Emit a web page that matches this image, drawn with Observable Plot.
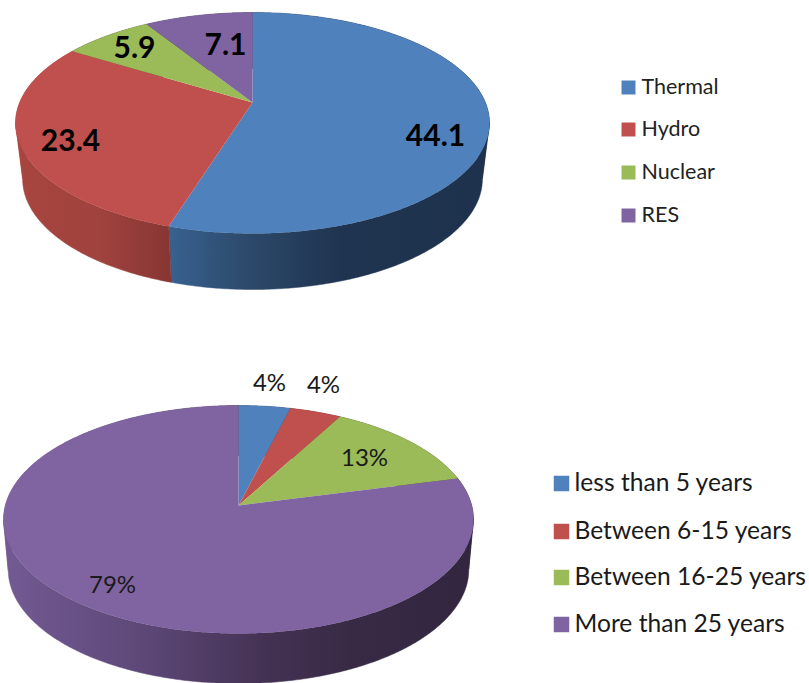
<!DOCTYPE html>
<html>
<head>
<meta charset="utf-8">
<script src="https://cdn.jsdelivr.net/npm/d3@7"></script>
<script src="https://cdn.jsdelivr.net/npm/@observablehq/plot@0.6"></script>
<style>html,body{margin:0;padding:0;background:#fff}svg{display:block}</style>
</head>
<body>
<div id="chart"></div>
<script>
// ---- data ----
const sourceLabels = ["Thermal", "Hydro", "Nuclear", "RES"];
const sourceValues = [44.1, 23.4, 5.9, 7.1];
const sourceText = ["44.1", "23.4", "5.9", "7.1"];
const ageLabels = ["less than 5 years", "Between 6-15 years", "Between 16-25 years", "More than 25 years"];
const ageValues = [4, 4, 13, 79];
const ageText = ["4%", "4%", "13%", "79%"];

// ---- styling and layout ----
const W = 809, H = 683;
const colors = ["#4f81bd", "#c0504d", "#9bbb59", "#8064a2"];
const sidesTop = [
  [[170, "#38618f"], [250, "#2c4869"], [340, "#1f3450"], [489, "#1e324d"]],
  [[15, "#a8453f"], [100, "#a0423e"], [170, "#873633"]],
  [[0, "#5f7038"], [809, "#5f7038"]],
  [[0, "#4a3a60"], [809, "#4a3a60"]]
];
const sidesBottom = [
  [[0, "#2f4d71"], [809, "#2f4d71"]],
  [[0, "#73302e"], [809, "#73302e"]],
  [[0, "#5d7035"], [809, "#5d7035"]],
  [[3, "#735a93"], [130, "#5f4a7b"], [270, "#433152"], [350, "#382a45"], [473, "#32263f"]]
];
const pieTop = {id: "a", cx: 252, apex: 102, top: 12, bottom: 233, rx: 237, depth: 56, taper: 0.97,
  labels: [[435, 136], [70, 141], [134, 48], [225, 45]], font: 30, weight: 700, textFill: "#000",
  legendX: 628, legendY: [87, 129, 172, 215], legendSide: 14, legendTextX: 641, legendFont: 21.5, legendFill: "#222"};
const pieBottom = {id: "b", cx: 238, apex: 505, top: 405, bottom: 633, rx: 235, depth: 50, taper: 0.98,
  labels: [[269, 383], [323, 385], [364, 458], [112, 585]], font: 24, weight: 400, textFill: "#1a1a1a",
  legendX: 561, legendY: [483, 531, 577, 624], legendSide: 15.5, legendTextX: 574, legendFont: 24.6, legendFill: "#1a1a1a"};

// Perspective projection of a circle: slice boundaries converge on the off-centre apex.
function projector(p) {
  const up = p.apex - p.top, down = p.bottom - p.apex;
  const k = (up - down) / (up + down);
  const A = up * (1 - k);
  const yMid = (down - up) / 2;
  const B = p.rx * A / Math.sqrt((A - k * yMid) ** 2 - yMid ** 2);
  return t => {
    const u = Math.sin(t), v = -Math.cos(t), w = 1 + k * v;
    return [p.cx + B * u / w, p.apex + A * v / w];
  };
}

// Split an arc wherever its x direction turns, so each wall polygon is a simple band.
function monotoneRuns(edge) {
  const runs = [];
  let run = [edge[0]], dir = 0;
  for (let i = 1; i < edge.length; i++) {
    const d = Math.sign(edge[i][0] - edge[i - 1][0]);
    if (dir && d && d !== dir) { runs.push(run); run = [edge[i - 1]]; }
    if (d) dir = d;
    run.push(edge[i]);
  }
  runs.push(run);
  return runs;
}

function pieMarks(p, values, labels, text) {
  const project = projector(p);
  const total = d3.sum(values);
  const ends = Array.from(d3.cumsum(values), d => d / total * 2 * Math.PI);
  const starts = [0, ...ends.slice(0, -1)];
  const arc = (a, b) => {
    const n = Math.max(2, Math.ceil((b - a) / 0.01));
    return d3.range(n + 1).map(i => project(a + (b - a) * i / n));
  };
  const marks = [];
  values.forEach((_, i) => {
    monotoneRuns(arc(starts[i], ends[i])).forEach(run => {
      const lower = run.slice().reverse().map(([x, y]) => [p.cx + (x - p.cx) * p.taper, y + p.depth]);
      const wall = [...run, ...lower];
      marks.push(Plot.line(wall, {x: d => d[0], y: d => d[1], curve: "linear-closed",
        fill: `url(#${p.id}${i})`, stroke: `url(#${p.id}${i})`, strokeWidth: 0.5}));
    });
  });
  values.forEach((_, i) => {
    const wedge = [[p.cx, p.apex], ...arc(starts[i], ends[i])];
    marks.push(Plot.line(wedge, {x: d => d[0], y: d => d[1], curve: "linear-closed",
      fill: colors[i], stroke: "none"}));
  });
  marks.push(Plot.text(text, {
    x: (d, i) => p.labels[i][0], y: (d, i) => p.labels[i][1], text: d => d,
    fontSize: p.font, fontWeight: p.weight, fill: p.textFill, textAnchor: "middle", lineAnchor: "middle"
  }));
  marks.push(Plot.dot(labels, {
    x: () => p.legendX, y: (d, i) => p.legendY[i], symbol: "square",
    r: p.legendSide / Math.sqrt(Math.PI), fill: (d, i) => colors[i], stroke: "none"
  }));
  marks.push(Plot.text(labels, {
    x: () => p.legendTextX, y: (d, i) => p.legendY[i], text: d => d,
    fontSize: p.legendFont, fill: p.legendFill, textAnchor: "start", lineAnchor: "middle"
  }));
  return marks;
}

function gradientDefs() {
  const defs = d3.create("svg:defs");
  [[pieTop, sidesTop], [pieBottom, sidesBottom]].forEach(([p, sides]) => {
    sides.forEach((stops, i) => {
      const g = defs.append("linearGradient").attr("id", p.id + i)
        .attr("gradientUnits", "userSpaceOnUse")
        .attr("x1", 0).attr("x2", W).attr("y1", 0).attr("y2", 0);
      stops.forEach(([x, c]) => g.append("stop").attr("offset", x / W).attr("stop-color", c));
    });
  });
  return defs.node();
}

const chart = Plot.plot({
  width: W, height: H, margin: 0,
  style: {fontFamily: "Lato, 'Open Sans', sans-serif", background: "#fff"},
  x: {domain: [0, W], range: [0, W], axis: null},
  y: {domain: [0, H], range: [0, H], axis: null},
  marks: [
    gradientDefs,
    ...pieMarks(pieTop, sourceValues, sourceLabels, sourceText),
    ...pieMarks(pieBottom, ageValues, ageLabels, ageText)
  ]
});
document.getElementById("chart").append(chart);
</script>
</body>
</html>
